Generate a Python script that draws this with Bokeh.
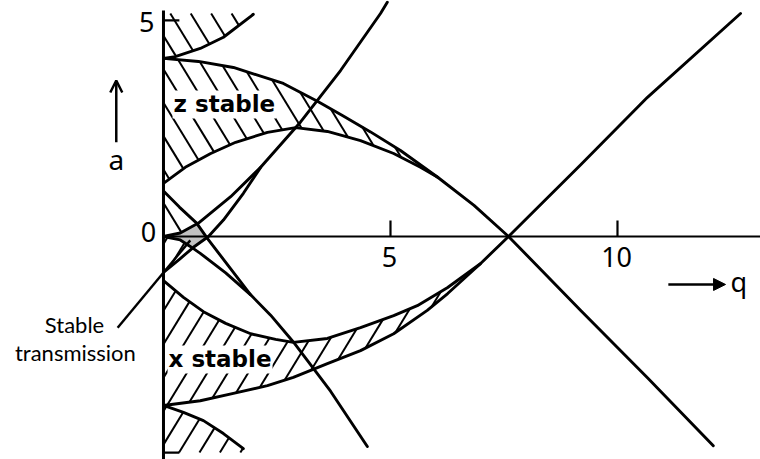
import numpy as np
from bokeh.plotting import figure
from bokeh.models import Range1d, Label, Arrow, OpenHead, NormalHead
from bokeh.embed import file_html
from bokeh.resources import INLINE

# ---- stability boundaries in the (q, a) plane ----
# z direction, second region: upper edge (b2) and lower edge (a1)
b2z_q = [0, 0.77, 1.54, 2.64, 3.39, 3.96, 4.56, 5.22, 6.04, 6.84, 7.60, 9.19, 10.66, 12.11]
b2z_a = [4.12, 4.05, 3.91, 3.54, 3.13, 2.79, 2.42, 1.99, 1.37, 0.72, 0.0, -1.71, -3.27, -4.84]
a1z_q = [0, 0.48, 1.04, 1.59, 2.29, 2.91, 3.61, 4.34, 5.07, 5.66, 6.04]
a1z_a = [1.23, 1.60, 1.92, 2.18, 2.41, 2.52, 2.43, 2.22, 1.92, 1.60, 1.37]

# x direction, second region: upper edge (-a1) and lower edge (-b2)
a1x_q = [0, 0.44, 0.88, 1.37, 1.92, 2.47, 2.86, 3.61, 4.34, 5.07, 5.59, 6.26, 6.98]
a1x_a = [-1.02, -1.41, -1.74, -2.01, -2.25, -2.38, -2.45, -2.36, -2.11, -1.83, -1.60, -1.18, -0.63]
b2x_q = [0, 0.81, 1.54, 2.29, 2.86, 3.61, 4.34, 5.07, 5.81, 6.26, 6.98, 7.60, 9.19, 10.66, 12.71]
b2x_a = [-3.91, -3.80, -3.63, -3.45, -3.26, -2.94, -2.64, -2.25, -1.71, -1.32, -0.63, 0.0, 1.66, 3.22, 5.16]

# third-region edges near q = 0
a2z_q = [0, 0.26, 0.81, 1.32, 1.98]
a2z_a = [4.12, 4.16, 4.35, 4.61, 5.14]
a2x_q = [0, 0.44, 0.88, 1.32, 1.76]
a2x_a = [-3.91, -4.07, -4.26, -4.56, -4.91]

# first region: x edges (-a0, -b1) and z edges (a0, b1)
a0x_q = [0, 0.37, 0.77, 1.48, 2.14, 3.02, 3.90, 4.78, 4.93]
a0x_a = [0, 0.08, 0.31, 0.92, 1.60, 2.65, 3.84, 5.16, 5.42]
b1x_q = [0, 0.37, 0.66, 0.99, 1.32, 1.76, 2.14]
b1x_a = [-0.83, -0.51, -0.25, 0.0, 0.38, 1.00, 1.60]
a0z_q = [0, 0.37, 0.59, 0.81, 1.37, 1.92, 2.36, 2.86, 3.68, 4.49]
a0z_a = [0, -0.08, -0.23, -0.39, -0.84, -1.35, -1.82, -2.44, -3.58, -4.86]
b1z_q = [0, 0.35, 0.73, 0.97, 1.92]
b1z_a = [1.05, 0.68, 0.31, -0.05, -1.35]

# axis ticks
q_ticks = [5, 10]
q_tick_labels = ["5", "10"]
a_ticks = [5, -5]

# ---- styling ----
INK = "black"
CURVE_W = 2.9
HATCH_W = 2.0
HATCH_SLOPE = 1.72   # data units of a per unit of q
HATCH_STEP = 0.45    # spacing of hatch lines along q
Q_MIN, Q_MAX = -3.59, 13.15
A_MIN, A_MAX = -5.16, 5.46
HATCH_TOP, HATCH_BOTTOM = 5.16, -5.0
TEXT_LIFT = 11       # px, puts the alphabetic baseline where intended


def curve(qv, av):
    qv = np.asarray(qv, float)
    av = np.asarray(av, float)
    return lambda x: np.interp(x, qv, av)


def const(c):
    return lambda x: np.full_like(x, c, dtype=float)


def hatch(q0, q1, lower, upper, slope, offset=0.0):
    """Straight hatch strokes a = slope*(q - c), clipped between two edges."""
    qs = np.linspace(q0, q1, 3000)
    lo, hi = lower(qs), upper(qs)
    corners = [q - a / slope for q in (q0, q1) for a in (lo.min(), hi.max())]
    k0 = int(np.floor((min(corners) - offset) / HATCH_STEP)) - 1
    k1 = int(np.ceil((max(corners) - offset) / HATCH_STEP)) + 1
    xs, ys = [], []
    for k in range(k0, k1 + 1):
        c = offset + k * HATCH_STEP
        la = slope * (qs - c)
        idx = np.flatnonzero((la >= lo) & (la <= hi))
        if idx.size < 2:
            continue
        breaks = np.flatnonzero(np.diff(idx) > 1)
        starts = np.r_[idx[0], idx[breaks + 1]]
        ends = np.r_[idx[breaks], idx[-1]]
        for s, e in zip(starts, ends):
            if e > s:
                xs.append([qs[s], qs[e]])
                ys.append([la[s], la[e]])
    return xs, ys


B2z, A1z = curve(b2z_q, b2z_a), curve(a1z_q, a1z_a)
A1x, B2x = curve(a1x_q, a1x_a), curve(b2x_q, b2x_a)
A2z, A2x = curve(a2z_q, a2z_a), curve(a2x_q, a2x_a)
A0x, B1x = curve(a0x_q, a0x_a), curve(b1x_q, b1x_a)
A0z, B1z = curve(a0z_q, a0z_a), curve(b1z_q, b1z_a)

p = figure(width=760, height=459,
           x_range=Range1d(Q_MIN, Q_MAX), y_range=Range1d(A_MIN, A_MAX),
           x_axis_type=None, y_axis_type=None,
           output_backend="svg", toolbar_location=None, min_border=0)
p.outline_line_color = None
p.background_fill_color = "white"
p.border_fill_color = "white"

# region stable in both directions
qg = np.linspace(0, 1.1, 500)
g_lo = np.maximum(A0z(qg), B1x(qg))
g_hi = np.maximum(np.minimum(A0x(qg), B1z(qg)), g_lo)
p.varea(x=qg, y1=g_lo, y2=g_hi, fill_color="#c2c2c2")

# hatching: z-stable regions "\", x-stable regions "/"
hx, hy = [], []
for args in [
    (0, a1z_q[-1], A1z, B2z, -HATCH_SLOPE, 0.0),
    (0, a2z_q[-1], A2z, const(HATCH_TOP), -HATCH_SLOPE, 0.0),
    (0, 0.75, A0x, B1z, -HATCH_SLOPE, 0.0),
    (0, a1x_q[-1], B2x, A1x, HATCH_SLOPE, 0.1),
    (0, 0.65, B1x, A0z, HATCH_SLOPE, 0.1),
    (0, a2x_q[-1], const(HATCH_BOTTOM), A2x, HATCH_SLOPE, 0.1),
]:
    xs, ys = hatch(*args)
    hx += xs
    hy += ys
p.multi_line(hx, hy, line_color=INK, line_width=HATCH_W)

# boundary curves
for qv, av in [(b2z_q, b2z_a), (a1z_q, a1z_a), (a1x_q, a1x_a), (b2x_q, b2x_a),
               (a2z_q, a2z_a), (a2x_q, a2x_a), (a0x_q, a0x_a), (b1x_q, b1x_a),
               (a0z_q, a0z_a), (b1z_q, b1z_a)]:
    p.line(qv, av, line_color=INK, line_width=CURVE_W, line_join="round", line_cap="round")

# axes drawn through the origin
p.segment(x0=[0, 0], y0=[-5.16, 0], x1=[0, 13.15], y1=[5.23, 0],
          line_color=INK, line_width=[3.0, 2.2])
p.segment(x0=q_ticks, y0=[0] * len(q_ticks), x1=q_ticks, y1=[0.37] * len(q_ticks),
          line_color=INK, line_width=2.2)
p.segment(x0=[0] * len(a_ticks), y0=a_ticks, x1=[0.35] * len(a_ticks), y1=a_ticks,
          line_color=INK, line_width=2.2)

# pointer to the jointly stable region
p.line([-1.01, 0.59], [-2.11, -0.09], line_color=INK, line_width=2.4)

NUM_FONT = "Noto Sans"
def add_label(x, y, text, size, font=NUM_FONT, align="center", style="normal", bg=None):
    lab = Label(x=x, y=y, y_offset=TEXT_LIFT, text=text, text_font=font,
                text_font_size=size, text_font_style=style, text_align=align,
                text_baseline="alphabetic", text_color=INK)
    if bg:
        lab.background_fill_color = bg
        lab.padding = 1
    p.add_layout(lab)

add_label(-0.33, -0.16, "0", "27px")
add_label(-0.37, 4.70, "5", "27px")
for qt, lab in zip(q_ticks, q_tick_labels):
    add_label(qt - 0.02, -0.72, lab, "27px")
add_label(-1.04, 1.53, "a", "28px")
add_label(12.49, -1.30, "q", "27px", align="left")

add_label(0.20, 2.80, "z stable", "23px", font="DejaVu Sans", align="left", style="bold", bg="white")
add_label(0.09, -3.10, "x stable", "23px", font="DejaVu Sans", align="left", style="bold", bg="white")

add_label(-1.96, -2.29, "Stable", "22px", font="Lato")
add_label(-1.94, -2.94, "transmission", "22px", font="Lato")

p.add_layout(Arrow(end=OpenHead(size=12, line_width=2.5, line_color=INK),
                   x_start=-1.04, y_start=2.18, x_end=-1.04, y_end=3.61,
                   line_width=2.5, line_color=INK))
p.add_layout(Arrow(end=NormalHead(size=12, fill_color=INK, line_color=INK),
                   x_start=11.12, y_start=-1.11, x_end=12.38, y_end=-1.11,
                   line_width=2.5, line_color=INK))

open("out.html", "w").write(file_html(p, INLINE))
